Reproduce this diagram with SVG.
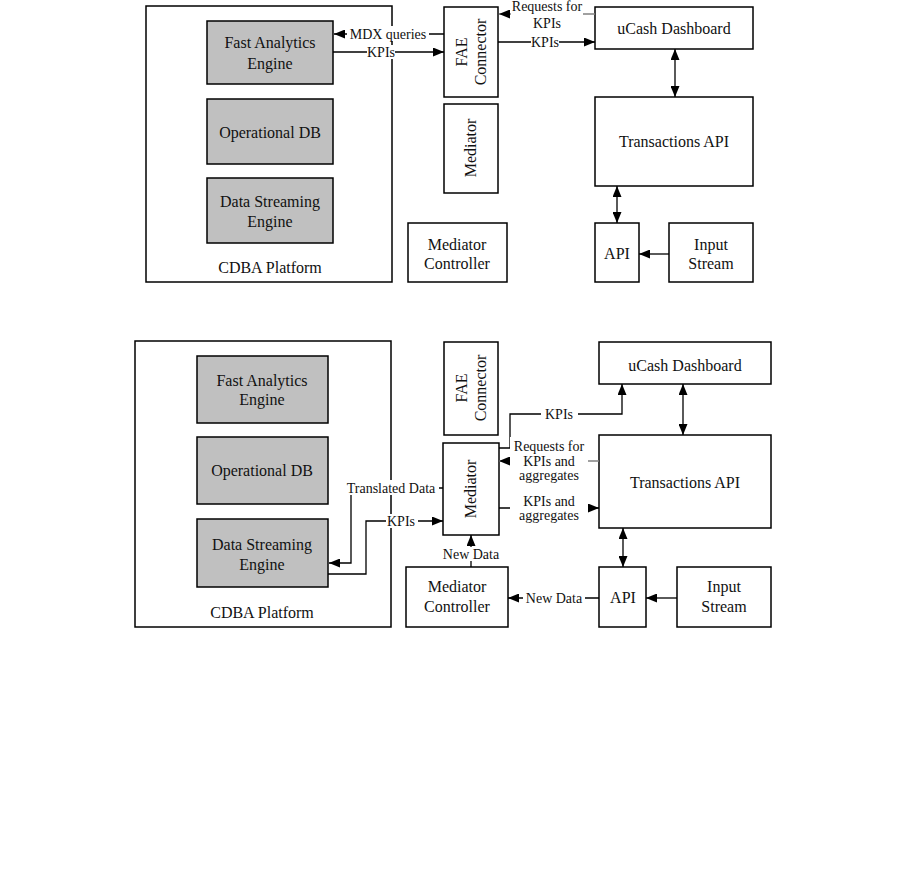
<svg xmlns="http://www.w3.org/2000/svg" width="901" height="886" viewBox="0 0 901 886">
<style>
.box{fill:#fff;stroke:#000;stroke-width:1.5}
.grey{fill:#c0c0c0;stroke:#000;stroke-width:1.5}
.nt{font-family:"Liberation Serif","Times New Roman",serif;font-size:16px;fill:#111;text-anchor:middle}
.lt{font-family:"Liberation Serif","Times New Roman",serif;font-size:14px;fill:#111;text-anchor:middle}
.c{fill:none;stroke:#000;stroke-width:1.3}
.cg{fill:none;stroke:#808080;stroke-width:1.3}
.bg{fill:#fff;stroke:none}
</style>
<defs>
<marker id="ah" markerUnits="userSpaceOnUse" markerWidth="11" markerHeight="9" refX="11" refY="4.5" orient="auto-start-reverse">
<path d="M0,0 L11,4.5 L0,9 Z" fill="#000"/>
</marker>
</defs>
<rect width="901" height="886" fill="#fff"/>

<!-- TOP DIAGRAM -->
<g id="t-cdba"><rect class="box" x="146" y="6" width="246" height="276"/><text class="nt" x="270" y="273">CDBA Platform</text></g>
<g id="t-fae"><rect class="grey" x="207" y="21" width="126" height="63"/><text class="nt" x="270" y="48">Fast Analytics</text><text class="nt" x="270" y="69">Engine</text></g>
<g id="t-odb"><rect class="grey" x="207" y="99" width="126" height="65"/><text class="nt" x="270" y="138">Operational DB</text></g>
<g id="t-dse"><rect class="grey" x="207" y="178" width="126" height="65"/><text class="nt" x="270" y="207">Data Streaming</text><text class="nt" x="270" y="227">Engine</text></g>
<g id="t-faec"><rect class="box" x="444" y="7" width="54" height="90"/><text class="nt" transform="translate(467,52) rotate(-90)">FAE</text><text class="nt" transform="translate(486,52) rotate(-90)">Connector</text></g>
<g id="t-med"><rect class="box" x="444" y="104" width="54" height="89"/><text class="nt" transform="translate(476,148) rotate(-90)">Mediator</text></g>
<g id="t-medc"><rect class="box" x="408" y="223" width="99" height="59"/><text class="nt" x="457" y="250">Mediator</text><text class="nt" x="457" y="269">Controller</text></g>
<g id="t-dash"><rect class="box" x="595" y="7" width="158" height="42"/><text class="nt" x="674" y="34">uCash Dashboard</text></g>
<g id="t-tapi"><rect class="box" x="595" y="97" width="158" height="89"/><text class="nt" x="674" y="147">Transactions API</text></g>
<g id="t-api"><rect class="box" x="595" y="223" width="44" height="59"/><text class="nt" x="617" y="259">API</text></g>
<g id="t-in"><rect class="box" x="669" y="223" width="84" height="59"/><text class="nt" x="711" y="250">Input</text><text class="nt" x="711" y="269">Stream</text></g>

<g id="t-connectors">
<path class="c" d="M444,34 H334" marker-end="url(#ah)"/>
<rect class="bg" x="347" y="26" width="82" height="15"/><text class="lt" x="388" y="39">MDX queries</text>
<path class="c" d="M333,52 H444" marker-end="url(#ah)"/>
<rect class="bg" x="367" y="45" width="28" height="14"/><text class="lt" x="381" y="57">KPIs</text>
<path class="cg" d="M595,14 H499" marker-end="url(#ah)"/>
<rect class="bg" x="511" y="0" width="72" height="33"/><text class="lt" x="547" y="11">Requests for</text><text class="lt" x="547" y="28">KPIs</text>
<path class="c" d="M498,42 H595" marker-end="url(#ah)"/>
<rect class="bg" x="531" y="35" width="28" height="14"/><text class="lt" x="545" y="47">KPIs</text>
<path class="c" d="M675,49 V97" marker-start="url(#ah)" marker-end="url(#ah)"/>
<path class="c" d="M617,186 V223" marker-start="url(#ah)" marker-end="url(#ah)"/>
<path class="c" d="M669,254 H639" marker-end="url(#ah)"/>
</g>

<!-- BOTTOM DIAGRAM -->
<g id="b-cdba"><rect class="box" x="135" y="341" width="256" height="286"/><text class="nt" x="262" y="618">CDBA Platform</text></g>
<g id="b-fae"><rect class="grey" x="197" y="356" width="131" height="67"/><text class="nt" x="262" y="386">Fast Analytics</text><text class="nt" x="262" y="405">Engine</text></g>
<g id="b-odb"><rect class="grey" x="197" y="437" width="131" height="67"/><text class="nt" x="262" y="476">Operational DB</text></g>
<g id="b-dse"><rect class="grey" x="197" y="519" width="131" height="68"/><text class="nt" x="262" y="550">Data Streaming</text><text class="nt" x="262" y="570">Engine</text></g>
<g id="b-faec"><rect class="box" x="444" y="342" width="54" height="93"/><text class="nt" transform="translate(467,388) rotate(-90)">FAE</text><text class="nt" transform="translate(486,388) rotate(-90)">Connector</text></g>
<g id="b-med"><rect class="box" x="443" y="443" width="56" height="92"/><text class="nt" transform="translate(476,489) rotate(-90)">Mediator</text></g>
<g id="b-medc"><rect class="box" x="406" y="567" width="102" height="60"/><text class="nt" x="457" y="592">Mediator</text><text class="nt" x="457" y="612">Controller</text></g>
<g id="b-dash"><rect class="box" x="599" y="342" width="172" height="42"/><text class="nt" x="685" y="371">uCash Dashboard</text></g>
<g id="b-tapi"><rect class="box" x="599" y="435" width="172" height="93"/><text class="nt" x="685" y="488">Transactions API</text></g>
<g id="b-api"><rect class="box" x="599" y="567" width="47" height="60"/><text class="nt" x="623" y="603">API</text></g>
<g id="b-in"><rect class="box" x="677" y="567" width="94" height="60"/><text class="nt" x="724" y="592">Input</text><text class="nt" x="724" y="612">Stream</text></g>

<g id="b-connectors">
<path class="c" d="M443,488 H351 V563 H329" marker-end="url(#ah)"/>
<rect class="bg" x="344" y="480" width="95" height="15"/><text class="lt" x="391" y="493">Translated Data</text>
<path class="c" d="M328,574 H366 V521 H443" marker-end="url(#ah)"/>
<rect class="bg" x="386" y="514" width="32" height="14"/><text class="lt" x="401" y="526">KPIs</text>
<path class="c" d="M471,567 V535" marker-end="url(#ah)"/>
<rect class="bg" x="439" y="547" width="64" height="14"/><text class="lt" x="471" y="559">New Data</text>
<path class="c" d="M599,598 H508" marker-end="url(#ah)"/>
<rect class="bg" x="523" y="591" width="62" height="14"/><text class="lt" x="554" y="603">New Data</text>
<path class="c" d="M499,448 H510 V414 H622 V384" marker-end="url(#ah)"/>
<rect class="bg" x="541" y="407" width="37" height="14"/><text class="lt" x="559" y="419">KPIs</text>
<path class="cg" d="M599,461 H499" marker-end="url(#ah)"/>
<rect class="bg" x="510" y="437" width="78" height="45"/><text class="lt" x="549" y="451">Requests for</text><text class="lt" x="549" y="466">KPIs and</text><text class="lt" x="549" y="480">aggregates</text>
<path class="c" d="M499,508 H599" marker-end="url(#ah)"/>
<rect class="bg" x="510" y="493" width="78" height="29"/><text class="lt" x="549" y="506">KPIs and</text><text class="lt" x="549" y="520">aggregates</text>
<path class="c" d="M683,384 V435" marker-start="url(#ah)" marker-end="url(#ah)"/>
<path class="c" d="M623,528 V567" marker-start="url(#ah)" marker-end="url(#ah)"/>
<path class="c" d="M677,598 H646" marker-end="url(#ah)"/>
</g>
</svg>
